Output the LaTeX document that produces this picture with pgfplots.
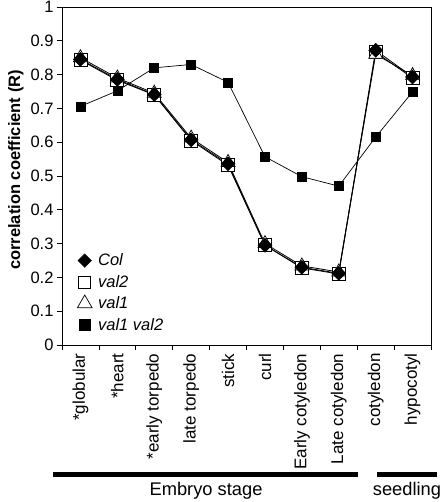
\documentclass[border=0pt]{standalone}
\usepackage{fontspec}
\setmainfont{Liberation Sans}
\usepackage{pgfplots}
\pgfplotsset{compat=1.18}
\newcommand\fs{\fontsize{16.5}{19.8}\selectfont}
\newcommand\fx{\fontsize{17}{20}\selectfont}
\newcommand\fb{\fontsize{18.3}{22}\selectfont}
\begin{document}
\begin{tikzpicture}
\useasboundingbox (-62pt,-157pt) rectangle (380pt,345pt);
\begin{axis}[
  at={(0pt,0pt)}, anchor=south west,
  width=369pt, height=338pt, scale only axis,
  xmin=-0.5, xmax=9.5, ymin=0, ymax=1,
  xtick={0,1,2,3,4,5,6,7,8,9},
  xticklabels={*globular,*heart,*early torpedo,late torpedo,stick,curl,Early cotyledon,Late cotyledon,cotyledon,hypocotyl},
  xticklabel style={rotate=90, anchor=east, font=\fx},
  major x tick style={draw=none},
  minor xtick={-0.5,0.5,1.5,2.5,3.5,4.5,5.5,6.5,7.5,8.5,9.5},
  ytick={0,0.1,0.2,0.3,0.4,0.5,0.6,0.7,0.8,0.9,1},
  yticklabel style={font=\fs},
  /pgf/number format/assume math mode=true,
  tick align=outside, tick pos=left,
  major tick length=5pt, minor tick length=5pt,
  axis line style={line width=0.8pt},
  every tick/.style={black, line width=0.8pt},
  ylabel={correlation coefficient (R)},
  ylabel style={font=\fs\bfseries, xshift=6pt},
  legend style={at={(axis description cs:0.033,0.027)}, anchor=south west, draw=none, fill=none, font=\fs\itshape, row sep=4pt},
  legend cell align=left,
]
\addlegendimage{only marks, mark=square*, mark size=4.8pt, mark options={rotate=45, fill=black, draw=black}}
\addlegendentry{\hspace{4pt}Col}
\addlegendimage{only marks, mark=square*, mark size=6pt, mark options={fill=white, draw=black, line width=0.7pt}}
\addlegendentry{\hspace{4pt}val2}
\addlegendimage{only marks, mark=triangle*, mark size=8.5pt, mark options={fill=white, draw=black, line width=0.7pt}}
\addlegendentry{\hspace{4pt}val1}
\addlegendimage{only marks, mark=square*, mark size=5.5pt, mark options={fill=black, draw=black}}
\addlegendentry{\hspace{4pt}val1 val2}
% val1 val2
\addplot[forget plot, black, line width=0.7pt, mark=square*, mark size=4.5pt, mark options={fill=black}] coordinates {
(0,0.706) (1,0.752) (2,0.820) (3,0.830) (4,0.777) (5,0.557) (6,0.498) (7,0.470) (8,0.615) (9,0.749)};
% val2
\addplot[forget plot, black, line width=0.8pt, mark=square*, mark size=6.5pt, mark options={fill=white, line width=0.8pt}] coordinates {
(0,0.843) (1,0.783) (2,0.740) (3,0.605) (4,0.532) (5,0.295) (6,0.228) (7,0.210) (8,0.866) (9,0.790)};
% val1
\addplot[forget plot, black, line width=0.8pt, mark=triangle*, mark size=8pt, mark options={fill=white, line width=0.7pt}] coordinates {
(0,0.850) (1,0.790) (2,0.745) (3,0.612) (4,0.540) (5,0.300) (6,0.234) (7,0.216) (8,0.860) (9,0.797)};
% Col
\addplot[forget plot, black, line width=0.8pt, mark=square*, mark size=4.8pt, mark options={rotate=45, fill=black}] coordinates {
(0,0.845) (1,0.786) (2,0.741) (3,0.607) (4,0.536) (5,0.295) (6,0.230) (7,0.212) (8,0.872) (9,0.793)};
\end{axis}
\fill (-9pt,-131.5pt) rectangle (296pt,-127pt);
\fill (315pt,-131.5pt) rectangle (375pt,-127pt);
\node[font=\fb, anchor=base, inner sep=0pt] at (144pt,-150pt) {Embryo stage};
\node[font=\fb, anchor=base, inner sep=0pt] at (345pt,-150pt) {seedling};
\end{tikzpicture}
\end{document}
